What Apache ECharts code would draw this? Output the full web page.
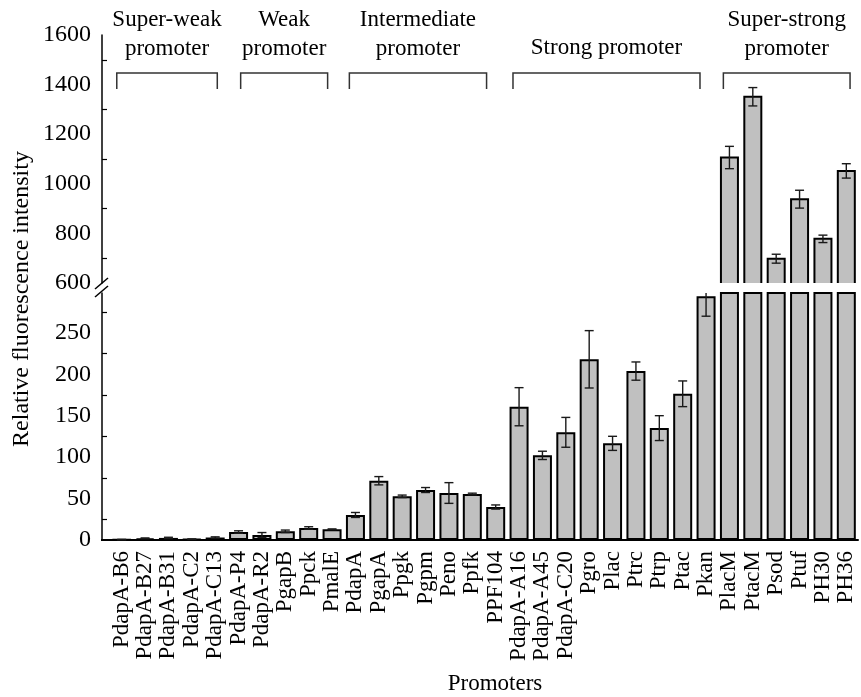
<!DOCTYPE html>
<html>
<head>
<meta charset="utf-8">
<script src="https://cdn.jsdelivr.net/npm/echarts@6/dist/echarts.min.js"></script>
<style>
html,body{margin:0;padding:0;background:#fff;}
#chart{width:861px;height:697px;}
</style>
</head>
<body>
<div id="chart"></div>
<script>
const categories = ['PdapA-B6','PdapA-B27','PdapA-B31','PdapA-C2','PdapA-C13','PdapA-P4','PdapA-R2','PgapB','Ppck','PmalE',
  'PdapA','PgapA','Ppgk','Pgpm','Peno','Ppfk','PPF104',
  'PdapA-A16','PdapA-A45','PdapA-C20','Pgro','Plac','Ptrc','Ptrp','Ptac','Pkan',
  'PlacM','PtacM','Psod','Ptuf','PH30','PH36'];
const values = [0.5, 2, 2.5, 1, 3, 9.6, 6, 10.5, 14.5, 12.9,
  30.2, 71.5, 52.7, 60.3, 56.7, 55.5, 39.8,
  160.8, 102.1, 129.9, 218, 116.6, 203.8, 135, 176.4, 294,
  1106, 1351, 698, 938, 778, 1052];
const errors = [0.3, 0.5, 0.8, 0.3, 0.8, 1.5, 3, 1.5, 1.5, 0.5,
  3, 5, 1.5, 3, 12.5, 1, 2.5,
  23, 5, 18, 34.6, 8.5, 11, 15, 15.5, 24,
  45, 37, 18, 36, 15, 29];
const upperTicks = [600, 1600, 200];
const lowerTicks = [0, 298, 50];
const groups = [
  {label: 'Super-weak\npromoter', from: -0.21, to: 4.09},
  {label: 'Weak\npromoter', from: 5.09, to: 8.81},
  {label: 'Intermediate\npromoter', from: 9.74, to: 15.61},
  {label: 'Strong promoter', from: 16.74, to: 24.74},
  {label: 'Super-strong\npromoter', from: 25.74, to: 31.16}
];

const FONT = 'Liberation Serif';
const chart = echarts.init(document.getElementById('chart'), null, {renderer: 'canvas'});

function errRender(params, api) {
  const i = api.value(0), v = api.value(1), e = api.value(2);
  const rect = params.coordSys;
  const x = api.coord([i, v])[0];
  const top = api.coord([i, v + e])[1];
  const bot = api.coord([i, v - e])[1];
  const yMin = rect.y, yMax = rect.y + rect.height;
  const half = 4.5;
  const style = {stroke: '#1a1a1a', lineWidth: 1.4};
  const children = [];
  const t = Math.max(top, yMin), b = Math.min(bot, yMax);
  if (b > t) children.push({type: 'line', shape: {x1: x, y1: t, x2: x, y2: b}, style});
  if (top >= yMin && top <= yMax) children.push({type: 'line', shape: {x1: x - half, y1: top, x2: x + half, y2: top}, style});
  if (bot >= yMin && bot <= yMax) children.push({type: 'line', shape: {x1: x - half, y1: bot, x2: x + half, y2: bot}, style});
  return {type: 'group', children};
}

// upper panel bars: open at the bottom (broken axis), border on left/top/right only
function upperBarRender(params, api) {
  const i = api.value(0), v = api.value(1);
  const rect = params.coordSys;
  const p = api.coord([i, v]);
  const base = rect.y + rect.height;
  const w = 17;
  const x1 = p[0] - w / 2, x2 = p[0] + w / 2;
  return {type: 'group', children: [
    {type: 'rect', shape: {x: x1, y: p[1], width: w, height: base - p[1]}, style: {fill: '#c0c0c0'}},
    {type: 'polyline', shape: {points: [[x1, base], [x1, p[1]], [x2, p[1]], [x2, base]]},
     style: {stroke: '#000', lineWidth: 2, fill: null}}
  ]};
}

const errData = values.map((v, i) => [i, v, errors[i]]);
const barStyle = {color: '#c0c0c0', borderColor: '#000', borderWidth: 2};
const labelStyle = {fontFamily: FONT, fontSize: 24, color: '#000'};

chart.setOption({
  animation: false,
  backgroundColor: '#fff',
  grid: [
    {left: 110, right: 3, top: 35, bottom: 414},
    {left: 110, right: 3, top: 293, bottom: 157}
  ],
  xAxis: [
    {type: 'category', data: categories, gridIndex: 0, show: false},
    {type: 'category', data: categories, gridIndex: 1,
     axisLine: {lineStyle: {color: '#000', width: 2}},
     axisTick: {show: false},
     axisLabel: {rotate: 90, interval: 0, margin: 11, fontFamily: FONT, fontSize: 23, color: '#000'}}
  ],
  yAxis: [
    {type: 'value', gridIndex: 0, min: upperTicks[0], max: upperTicks[1], interval: upperTicks[2], offset: 8,
     axisLine: {show: true, lineStyle: {color: '#000', width: 1.5}},
     axisTick: {show: true, inside: true, length: 0},
     minorTick: {show: true, splitNumber: 2, length: 5, lineStyle: {color: '#000', width: 1.2}},
     splitLine: {show: false},
     axisLabel: Object.assign({margin: 11, formatter: v => String(v)}, labelStyle)},
    {type: 'value', gridIndex: 1, min: lowerTicks[0], max: lowerTicks[1], interval: lowerTicks[2], offset: 8,
     axisLine: {show: true, lineStyle: {color: '#000', width: 1.5}},
     axisTick: {show: true, inside: true, length: 0},
     minorTick: {show: true, splitNumber: 2, length: 5, lineStyle: {color: '#000', width: 1.2}},
     splitLine: {show: false},
     axisLabel: Object.assign({margin: 11, showMaxLabel: false,
       formatter: v => (v % 50 === 0 ? String(v) : '')}, labelStyle)}
  ],
  series: [
    {type: 'custom', xAxisIndex: 0, yAxisIndex: 0, renderItem: upperBarRender, encode: {x: 0, y: 1},
     data: values.map((v, i) => [i, v]).filter(d => d[1] >= upperTicks[0]), z: 2},
    {type: 'bar', xAxisIndex: 1, yAxisIndex: 1, barWidth: 19, clip: true,
     data: values, itemStyle: barStyle},
    {type: 'custom', xAxisIndex: 0, yAxisIndex: 0, renderItem: errRender, encode: {x: 0, y: 1},
     data: errData.filter(d => d[1] >= upperTicks[0]), z: 5},
    {type: 'custom', xAxisIndex: 1, yAxisIndex: 1, renderItem: errRender, encode: {x: 0, y: 1},
     data: errData, z: 5}
  ]
});

// annotations: group brackets, axis break, axis titles
const c0 = chart.convertToPixel({xAxisIndex: 1}, categories[0]);
const c1 = chart.convertToPixel({xAxisIndex: 1}, categories[1]);
const step = c1 - c0;
const px = k => c0 + k * step;
const yBase = chart.convertToPixel({yAxisIndex: 1}, 0);
const graphics = [];
groups.forEach(g => {
  const x1 = px(g.from), x2 = px(g.to);
  graphics.push({type: 'polyline', shape: {points: [[x1, 89], [x1, 73], [x2, 73], [x2, 89]]},
    style: {stroke: '#333', lineWidth: 1.5, fill: null}});
  const twoLine = g.label.indexOf('\n') >= 0;
  graphics.push({type: 'text', x: (x1 + x2) / 2, y: twoLine ? 34 : 48,
    style: {text: g.label, font: '23px "' + FONT + '"', fill: '#000', align: 'center',
      verticalAlign: 'middle', lineHeight: 29}});
});
// axis break slashes
graphics.push({type: 'line', shape: {x1: 95, y1: 289, x2: 108, y2: 278}, style: {stroke: '#000', lineWidth: 1.5}});
graphics.push({type: 'line', shape: {x1: 95, y1: 297, x2: 108, y2: 286}, style: {stroke: '#000', lineWidth: 1.5}});
// x-axis line extension to meet the offset y-axis
graphics.push({type: 'line', shape: {x1: 101, y1: yBase, x2: c0 - step / 2, y2: yBase}, style: {stroke: '#000', lineWidth: 2}});
// axis titles
graphics.push({type: 'text', x: 22, y: 299, rotation: Math.PI / 2,
  style: {text: 'Relative fluorescence intensity', font: '24px "' + FONT + '"', fill: '#000', align: 'center', verticalAlign: 'middle'}});
graphics.push({type: 'text', x: 495, y: 684,
  style: {text: 'Promoters', font: '23px "' + FONT + '"', fill: '#000', align: 'center', verticalAlign: 'middle'}});
chart.setOption({graphic: graphics});
</script>
</body>
</html>
